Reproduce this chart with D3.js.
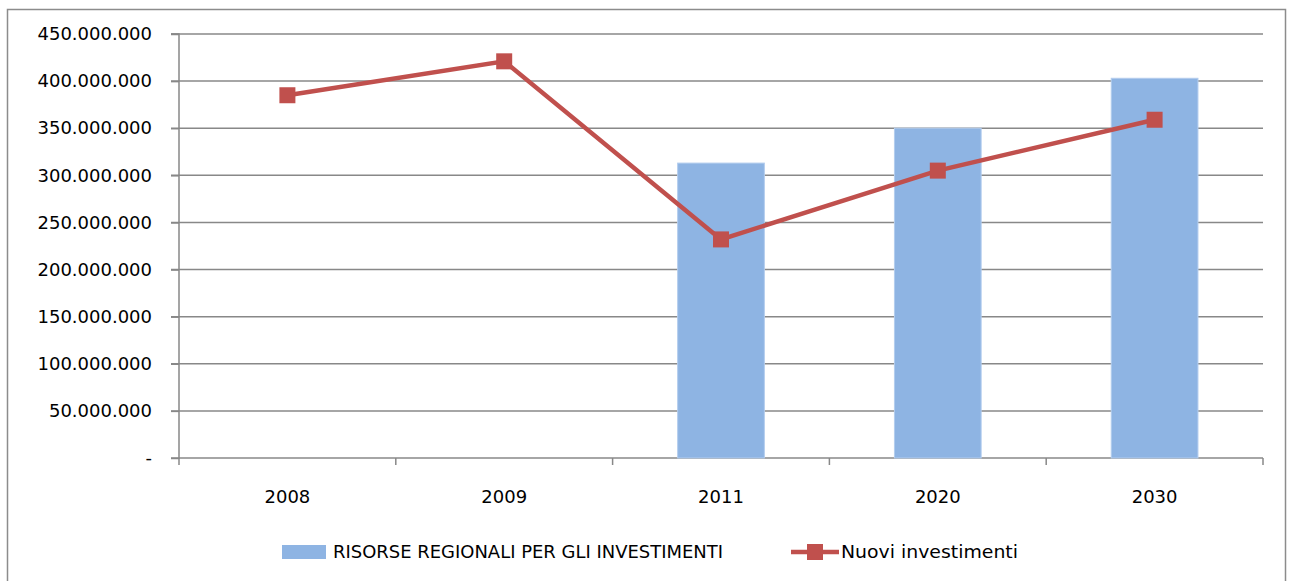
<!DOCTYPE html>
<html>
<head>
<meta charset="utf-8">
<script src="https://cdn.jsdelivr.net/npm/d3@7"></script>
<style>
  body { margin: 0; background: #fff; }
  svg text { font-family: "DejaVu Sans", "Liberation Sans", sans-serif; fill: #000; }
</style>
</head>
<body>
<div id="chart"></div>
<script>
// data
var years = ["2008", "2009", "2011", "2020", "2030"];
var risorse = [null, null, 313000000, 350000000, 403000000];
var nuovi = [385000000, 421000000, 232000000, 305000000, 359000000];
var yTicks = [0, 50000000, 100000000, 150000000, 200000000, 250000000, 300000000, 350000000, 400000000, 450000000];
var seriesNames = ["RISORSE REGIONALI  PER GLI INVESTIMENTI", "Nuovi investimenti"];

var W = 1289, H = 581;
var margin = {top: 34, left: 179, right: 26, bottom: 123};
var width = W - margin.left - margin.right;
var height = H - margin.top - margin.bottom;

var svg = d3.select("#chart").append("svg")
    .attr("width", W)
    .attr("height", H);

// outer frame
svg.append("rect")
    .attr("x", 7.5).attr("y", 9.5)
    .attr("width", 1278).attr("height", 600)
    .attr("fill", "none")
    .attr("stroke", "#8c8c8c")
    .attr("stroke-width", 1.5);

var g = svg.append("g")
    .attr("transform", "translate(" + margin.left + "," + margin.top + ")");

var x = d3.scaleBand().domain(years).range([0, width]);
var y = d3.scaleLinear().domain([0, 450000000]).range([height, 0]);

var fmt = function(v) {
    if (v === 0) return "-";
    return d3.format(",")(v).replace(/,/g, ".");
};

// gridlines
g.append("g")
    .selectAll("line")
    .data(yTicks.slice(1))
    .enter().append("line")
    .attr("x1", -8).attr("x2", width)
    .attr("y1", function(d) { return y(d); })
    .attr("y2", function(d) { return y(d); })
    .attr("stroke", "#888")
    .attr("stroke-width", 1.5);

// y axis
var yAxis = g.append("g")
    .call(d3.axisLeft(y).tickValues(yTicks).tickFormat(fmt).tickSize(8).tickPadding(19));
yAxis.selectAll("path, line").attr("stroke", "#888").attr("stroke-width", 1.5);
yAxis.selectAll("text").style("font-size", "18px");
yAxis.select(".domain").attr("d", "M-8," + height + "H0V0H-8");

// x axis
var xAxis = g.append("g")
    .attr("transform", "translate(0," + height + ")");
xAxis.append("line")
    .attr("x1", 0).attr("x2", width)
    .attr("stroke", "#888").attr("stroke-width", 1.5);
xAxis.selectAll(".tk")
    .data(d3.range(years.length + 1))
    .enter().append("line")
    .attr("class", "tk")
    .attr("x1", function(i) { return i * x.step(); })
    .attr("x2", function(i) { return i * x.step(); })
    .attr("y1", 0).attr("y2", 7)
    .attr("stroke", "#888").attr("stroke-width", 1.5);
xAxis.selectAll("text")
    .data(years)
    .enter().append("text")
    .attr("x", function(d) { return x(d) + x.bandwidth() / 2; })
    .attr("y", 45)
    .attr("text-anchor", "middle")
    .style("font-size", "18px")
    .text(function(d) { return d; });

// bars
var barW = x.bandwidth() * 0.4;
g.selectAll(".bar")
    .data(years.map(function(d, i) { return {year: d, v: risorse[i]}; }).filter(function(d) { return d.v != null; }))
    .enter().append("rect")
    .attr("class", "bar")
    .attr("x", function(d) { return x(d.year) + (x.bandwidth() - barW) / 2; })
    .attr("y", function(d) { return y(d.v); })
    .attr("width", barW)
    .attr("height", function(d) { return height - y(d.v); })
    .attr("fill", "#8eb4e3")
    .attr("stroke", "#b3cdee")
    .attr("stroke-width", 1);

// line
var pts = years.map(function(d, i) { return {year: d, v: nuovi[i]}; });
var line = d3.line()
    .x(function(d) { return x(d.year) + x.bandwidth() / 2; })
    .y(function(d) { return y(d.v); });
g.append("path")
    .datum(pts)
    .attr("d", line)
    .attr("fill", "none")
    .attr("stroke", "#c0504d")
    .attr("stroke-width", 4.5);
g.selectAll(".mk")
    .data(pts)
    .enter().append("rect")
    .attr("class", "mk")
    .attr("x", function(d) { return x(d.year) + x.bandwidth() / 2 - 8; })
    .attr("y", function(d) { return y(d.v) - 8; })
    .attr("width", 16).attr("height", 16)
    .attr("fill", "#c0504d");

// legend
var lg = svg.append("g").attr("transform", "translate(0,552)");
lg.append("rect")
    .attr("x", 282).attr("y", -7)
    .attr("width", 44).attr("height", 14)
    .attr("fill", "#8eb4e3");
lg.append("text")
    .attr("x", 333).attr("y", 6)
    .style("font-size", "17px")
    .attr("textLength", 390)
    .attr("lengthAdjust", "spacingAndGlyphs")
    .text(seriesNames[0]);
lg.append("line")
    .attr("x1", 791).attr("x2", 839)
    .attr("stroke", "#c0504d").attr("stroke-width", 4.5);
lg.append("rect")
    .attr("x", 807).attr("y", -8)
    .attr("width", 16).attr("height", 16)
    .attr("fill", "#c0504d");
lg.append("text")
    .attr("x", 841).attr("y", 6)
    .style("font-size", "17px")
    .attr("textLength", 177)
    .attr("lengthAdjust", "spacingAndGlyphs")
    .text(seriesNames[1]);
</script>
</body>
</html>
